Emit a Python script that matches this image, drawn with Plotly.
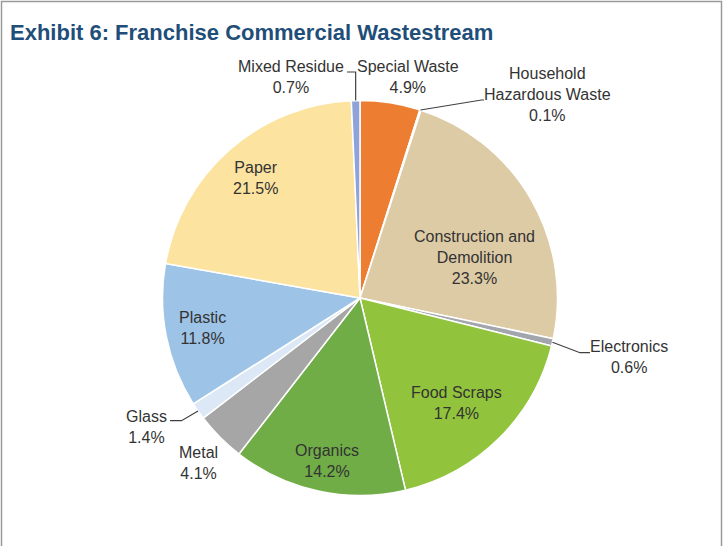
import math
import plotly.graph_objects as go

# Waste categories, clockwise from 12 o'clock
categories = [
    "Special Waste",
    "Household<br>Hazardous Waste",
    "Construction and<br>Demolition",
    "Electronics",
    "Food Scraps",
    "Organics",
    "Metal",
    "Glass",
    "Plastic",
    "Paper",
    "Mixed Residue",
]
shares = [4.9, 0.1, 23.3, 0.6, 17.4, 14.2, 4.1, 1.4, 11.8, 21.5, 0.7]

colors = [
    "#ED7D31", "#C9B98F", "#DDCBA6", "#A3A5AD", "#91C43C", "#70AD47",
    "#A6A6A6", "#DCE8F5", "#9DC3E6", "#FCE3A0", "#8FA3D8",
]

W, H = 723, 546
CX, CY, R = 360.0, 298.0, 197.5  # pie centre and radius in pixels


def px(x, y):
    """Pixel position (origin top-left) -> paper coordinates."""
    return x / W, 1 - y / H


# label block centres (pixels) and optional leader-line elbow/end points
label_pos = {
    "Special Waste": (408, 77),
    "Household<br>Hazardous Waste": (547, 94),
    "Construction and<br>Demolition": (474, 257),
    "Electronics": (629, 357),
    "Food Scraps": (456, 403),
    "Organics": (327, 461),
    "Metal": (198, 463),
    "Glass": (146, 427),
    "Plastic": (202, 328),
    "Paper": (255, 178),
    "Mixed Residue": (291, 77),
}
leaders = {
    "Mixed Residue": [(None, 72), (347, 72)],
    "Household<br>Hazardous Waste": [(481.5, 100), (484, 100)],
    "Electronics": [(580, 352.7), (590, 352.7)],
    "Glass": [(181.5, 420.7), (170, 420.7)],
}

fig = go.Figure()
x0, y1 = px(CX - R, CY - R)
x1, y0 = px(CX + R, CY + R)
fig.add_trace(go.Pie(
    labels=[c.replace("<br>", " ") for c in categories],
    values=shares,
    sort=False,
    direction="clockwise",
    rotation=0,
    marker=dict(colors=colors, line=dict(color="white", width=1.5)),
    textinfo="none",
    showlegend=False,
    domain=dict(x=[x0, x1], y=[y0, y1]),
))

total = sum(shares)
cum = 0.0
annotations = []
shapes = []
for name, v in zip(categories, shares):
    mid = (cum + v / 2) / total * 2 * math.pi
    cum += v
    lx, ly = label_pos[name]
    ax, ay = px(lx, ly)
    annotations.append(dict(
        x=ax, y=ay, xref="paper", yref="paper",
        text=f"{name}<br>{v:.1f}%", showarrow=False,
        xanchor="center", yanchor="middle", align="center",
        font=dict(family="Liberation Sans, Arial", size=16, color="#333333"),
    ))
    if name in leaders:
        ex = CX + R * math.sin(mid)
        ey = CY - R * math.cos(mid)
        pts = [(ex, ey)]
        for (qx, qy) in leaders[name]:
            pts.append((ex if qx is None else qx, qy))
        path = "M " + " L ".join(f"{px(a, b)[0]},{px(a, b)[1]}" for a, b in pts)
        shapes.append(dict(type="path", xref="paper", yref="paper", path=path,
                           line=dict(color="#404040", width=1.2)))

# title
tx, ty = px(8, 32)
annotations.append(dict(
    x=tx, y=ty, xref="paper", yref="paper", showarrow=False,
    xanchor="left", yanchor="middle",
    text="<b>Exhibit 6: Franchise Commercial Wastestream</b>",
    font=dict(family="Liberation Sans, Arial", size=22, color="#1F4E79"),
))

# outer frame
bx0, by1 = px(1.5, 1.5)
bx1, by0 = px(721.5, 560)
shapes.append(dict(type="rect", xref="paper", yref="paper",
                   x0=bx0, x1=bx1, y0=by0, y1=by1,
                   line=dict(color="#9A9A9A", width=1.5)))

fig.update_layout(
    width=W, height=H,
    margin=dict(l=0, r=0, t=0, b=0),
    paper_bgcolor="white", plot_bgcolor="white",
    annotations=annotations, shapes=shapes,
)
fig.write_html("out.html")
